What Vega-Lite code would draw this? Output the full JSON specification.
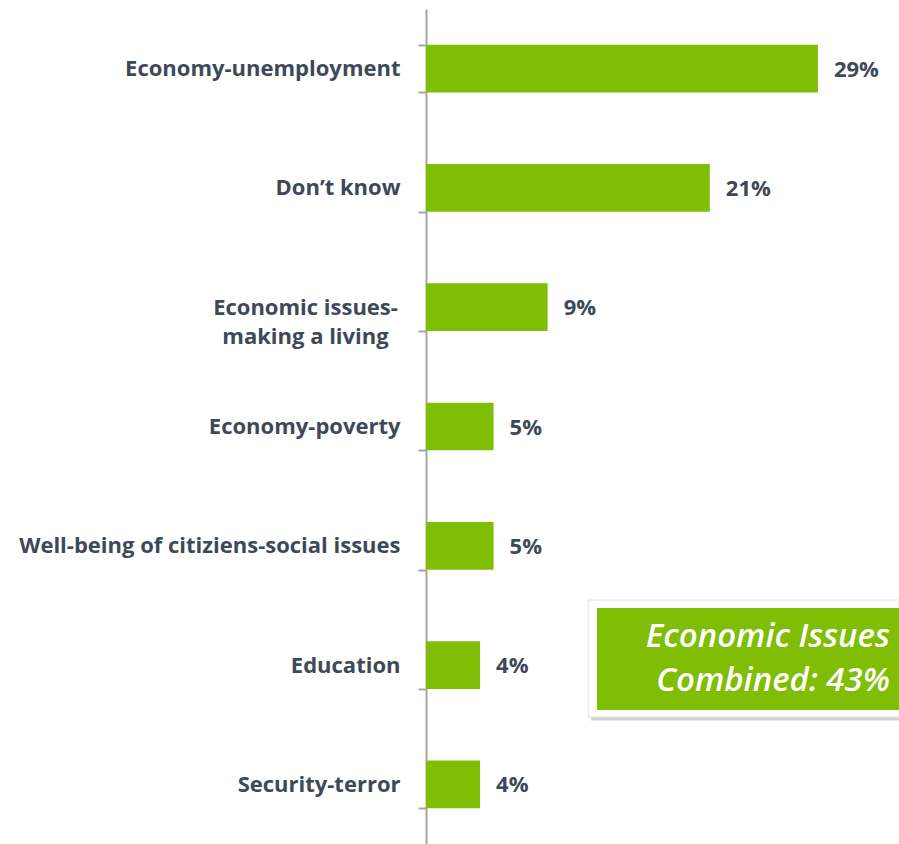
{
  "$schema": "https://vega.github.io/schema/vega-lite/v6.json",
  "width": 473,
  "height": 835,
  "autosize": "none",
  "padding": {"left": 426, "top": 9, "right": 0, "bottom": 0},
  "background": "white",
  "config": {"view": {"stroke": null}},
  "datasets": {
    "bars": [
      {"issue": "Economy-unemployment", "value": 29, "pct": "29%"},
      {"issue": "Don’t know", "value": 21, "pct": "21%"},
      {"issue": "Economic issues-|making a living", "value": 9, "pct": "9%"},
      {"issue": "Economy-poverty", "value": 5, "pct": "5%"},
      {"issue": "Well-being of citiziens-social issues", "value": 5, "pct": "5%"},
      {"issue": "Education", "value": 4, "pct": "4%"},
      {"issue": "Security-terror", "value": 4, "pct": "4%"}
    ],
    "callout": [
      {"issue": "Education", "x0": 12.0, "x1": 35, "xs": 12.65, "xt": 34.33, "text": ["Economic Issues", "Combined: 43%"]}
    ]
  },
  "encoding": {
    "y": {
      "field": "issue",
      "type": "nominal",
      "sort": ["Economy-unemployment", "Don’t know", "Economic issues-|making a living", "Economy-poverty", "Well-being of citiziens-social issues", "Education", "Security-terror"],
      "scale": {"paddingInner": 0.6, "paddingOuter": 0.3},
      "axis": {
        "title": null,
        "tickBand": "extent",
        "tickSize": 8,
        "tickWidth": 2,
        "tickColor": "#a6a6a6",
        "domainColor": "#a6a6a6",
        "domainWidth": 2,
        "labelPadding": {"condition": {"test": "datum.value == 'Economic issues-|making a living'", "value": 113}, "value": 18},
        "labelAlign": {"condition": {"test": "datum.value == 'Economic issues-|making a living'", "value": "center"}, "value": "right"},
        "labelFont": "Open Sans",
        "labelFontSize": 22,
        "labelFontWeight": "bold",
        "labelColor": "#3e4957",
        "labelLineHeight": 29,
        "labelLimit": 420,
        "labelExpr": "datum.value ? split(datum.value, '|') : ''"
      }
    }
  },
  "layer": [
    {
      "data": {"name": "bars"},
      "mark": {"type": "bar", "color": "#80bd05"},
      "encoding": {
        "x": {"field": "value", "type": "quantitative", "scale": {"domain": [0, 35]}, "axis": null}
      }
    },
    {
      "data": {"name": "bars"},
      "mark": {"type": "text", "align": "left", "baseline": "middle", "dx": 16, "dy": 1, "font": "Open Sans", "fontSize": 22, "fontWeight": "bold", "color": "#3e4957"},
      "encoding": {
        "x": {"field": "value", "type": "quantitative"},
        "text": {"field": "pct"}
      }
    },
    {
      "data": {"name": "callout"},
      "mark": {"type": "bar", "height": 117, "yOffset": -3, "xOffset": 3, "color": "#c8c8c8", "opacity": 0.8},
      "encoding": {
        "x": {"field": "x0", "type": "quantitative"},
        "x2": {"field": "x1"}
      }
    },
    {
      "data": {"name": "callout"},
      "mark": {"type": "bar", "height": 117, "yOffset": -6.5, "fill": "white", "stroke": "#e2e2e2", "strokeWidth": 1},
      "encoding": {
        "x": {"field": "x0", "type": "quantitative"},
        "x2": {"field": "x1"}
      }
    },
    {
      "data": {"name": "callout"},
      "mark": {"type": "bar", "height": 102, "yOffset": -6, "color": "#80bd05"},
      "encoding": {
        "x": {"field": "xs", "type": "quantitative"},
        "x2": {"field": "x1"}
      }
    },
    {
      "data": {"name": "callout"},
      "mark": {"type": "text", "align": "right", "baseline": "middle", "dy": -28, "lineHeight": 44, "font": "Open Sans", "fontSize": 33, "fontStyle": "italic", "fontWeight": 600, "color": "white"},
      "encoding": {
        "x": {"field": "xt", "type": "quantitative"},
        "text": {"field": "text"}
      }
    }
  ]
}
